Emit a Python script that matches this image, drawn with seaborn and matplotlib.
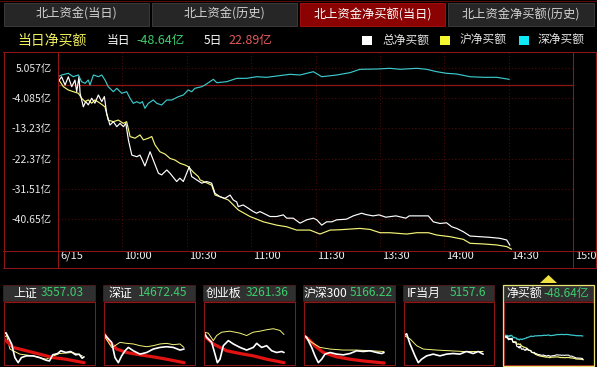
import matplotlib
matplotlib.use('Agg')
import matplotlib.pyplot as plt
from matplotlib.patches import Rectangle, Polygon
from matplotlib.lines import Line2D
import matplotlib.transforms as mtrans
import seaborn as sns

sns.set_style('dark')
plt.rcParams['font.family'] = ['Noto Sans CJK SC', 'DejaVu Sans']
plt.rcParams['axes.unicode_minus'] = False

# ---------------- data (minutes since 9:30, trading time; values in 亿) ----------------
tabs = ['北上资金(当日)', '北上资金(历史)', '北上资金净买额(当日)', '北上资金净买额(历史)']
legend_names = ['总净买额', '沪净买额', '深净买额']

x_ticks = [0, 30, 60, 90, 120, 150, 180, 210, 240]
x_labels = ['6/15', '10:00', '10:30', '11:00', '11:30', '13:30', '14:00', '14:30', '15:00']
y_ticks = [5.057, -4.085, -13.23, -22.37, -31.51, -40.65]
y_labels = ['5.057亿', '-4.085亿', '-13.23亿', '-22.37亿', '-31.51亿', '-40.65亿']

sz_t = [0, 1.7, 4.8, 7.1, 9.5, 11, 12.6, 14.1, 14.9, 16.5, 18.8, 20.4, 21.9, 23.4, 25.8, 27.4,
        29.7, 32, 33.6, 35.1, 36.7, 38.2, 39.3, 40.5, 42.1, 44.4, 46, 48.3, 50.7, 53, 56.1, 58.4,
        60.7, 62.3, 63.8, 67, 68.5, 72.4, 74, 78.6, 83.3, 87.9, 92.6, 97.3, 101.9, 108.1, 112.8,
        119, 122.9, 129.9, 136.1, 140.7, 148.5, 154.7, 159.4, 167.2, 171.8, 176.5, 181.1, 185.8,
        192, 198.2, 204.4, 210.3]
sz_v = [2.42, 2.94, 3.45, 2.42, 2.94, 0.91, 0.42, 1.42, -0.09, 2.94, 2.42, 2.94, 1.42, -0.6,
        -2.12, -1.09, -2.6, -2.12, -4.12, -5.63, -5.13, -5.63, -5.13, -7.14, -5.63, -4.63, -5.63,
        -6.14, -4.63, -4.63, -3.63, -3.12, -1.6, -2.12, -1.09, -0.6, -0.09, 1.63, 0.61, 0.91, 1.93,
        1.93, 2.42, 2.24, 2.63, 3.15, 2.94, 3.94, 2.42, 2.94, 3.65, 4.66, 4.75, 4.96, 4.66, 4.96,
        4.66, 3.94, 3.45, 3.24, 2.42, 2.24, 2.24, 1.63]

total_t = [0, 1.7, 3.3, 4.8, 6.4, 7.9, 8.7, 9.8, 10.3, 11.8, 12.9, 14.1, 15.7, 17.2, 18.8, 20.4,
           21.6, 22.7, 24.2, 25.8, 27.4, 28.9, 30.5, 31.6, 32.8, 34.4, 36.7, 38.2, 39.3, 40.5, 42.9,
           44.4, 46.8, 48.3, 50.7, 52.2, 55.3, 56.8, 58.4, 61.2, 62.3, 64.6, 67, 69.3, 71.6, 73.2,
           75.5, 77.8, 80.2, 81.7, 83.3, 84, 86.3, 88.7, 91, 92.6, 94.1, 95.7, 98.8, 101.9, 105,
           106.6, 109.6, 112.8, 115.9, 119, 120.6, 122.9, 125.2, 127.6, 129.9, 134.4, 137.6, 141.5,
           143.5, 146.8, 149.6, 152.8, 157.5, 162.1, 163.7, 168.4, 172.6, 174.9, 178, 181.1, 183.5,
           185.8, 188.9, 192, 196.7, 201.3, 206, 209.1, 210.6]
total_v = [0.9, 2.4, -0.1, 2.4, -0.6, 1.4, -2.1, 2.4, -2.6, -6.7, -5.1, -6.1, -4.1, -5.6, -3.1,
           -5.1, -3.6, -8.7, -12.2, -11.2, -12.7, -11.7, -12.7, -11.7, -16.7, -21.3, -21.8, -21.3,
           -22.8, -24.6, -20.3, -22.8, -26.8, -27.3, -25.8, -26.8, -29.3, -28.3, -29.3, -24.8,
           -27.8, -28.8, -29.8, -29.3, -29.8, -32.9, -33.9, -34.4, -33.4, -34.9, -35.5, -36.9,
           -36.4, -37.4, -38.4, -38.9, -38.4, -38.9, -39.9, -39.9, -39.4, -40.4, -40.4, -41.9,
           -40.9, -40.4, -40.9, -42.5, -41.5, -41.5, -40.9, -40.7, -39.7, -38.9, -39.3, -39.7,
           -39.4, -40.1, -39.7, -40.4, -39.7, -39.7, -39.7, -41.5, -42.0, -41.8, -43.0, -43.5,
           -44.5, -45.8, -46.0, -46.2, -46.5, -47.0, -48.6]

sh_t = [0, 2.5, 4.8, 7.1, 9.5, 11, 12.6, 14.1, 15.7, 17.2, 19.6, 21.9, 23.4, 25.8, 28.1, 30.4, 32,
        33.6, 35.9, 38.2, 39.8, 42.1, 43.7, 45.2, 47.5, 49.9, 52.2, 54.5, 56.9, 59.2, 60.7, 63.1,
        65.4, 66.2, 71.6, 73.2, 75.5, 79.4, 84, 89.5, 95.7, 101.9, 106.6, 111.2, 117.4, 122.1,
        126.8, 131.4, 140.7, 145.4, 150.1, 154.7, 162.5, 167.2, 172.6, 176.5, 182.7, 188.9, 192,
        198.2, 204.4, 209.1, 211.4]
sh_v = [1.9, -0.6, -1.6, -2.1, -2.6, -4.1, -5.1, -4.6, -5.6, -4.6, -5.6, -6.7, -10.7, -11.2,
        -10.7, -11.7, -11.2, -15.7, -16.2, -15.2, -16.7, -16.2, -15.7, -18.2, -20.3, -21.0, -22.3,
        -22.8, -23.8, -24.3, -24.8, -26.5, -27.8, -28.8, -30.4, -33.4, -33.9, -34.9, -37.9, -39.9,
        -41.5, -42.5, -43.0, -44.0, -44.0, -45.2, -44.0, -43.9, -43.5, -43.8, -44.8, -44.8, -45.2,
        -44.8, -44.8, -45.5, -46.0, -46.8, -48.0, -48.2, -48.5, -49.0, -49.8]

# ---------------- mini panels (relative level within each thumbnail) ----------------
mini_names = ['上证', '深证', '创业板', '沪深300', 'IF当月', '净买额']
mini_nums = ['3557.03', '14672.45', '3261.36', '5166.22', '5157.6', '-48.64亿']

p1_wt = [0, 5.2, 11.3, 20, 28.7, 37.3, 46, 59, 76.4, 93.8, 111, 120, 128.5, 141.5, 150, 163, 176, 189, 198, 206, 211]
p1_w = [30.7, 31.7, 27.3, 20.7, 7.3, 2.3, 7.3, 9, 9, 7.3, 4.7, 4, 10, 11.3, 14, 12.3, 13.3, 10, 10.7, 6.7, 8]
p1_yt = [0, 6.9, 15.6, 24.3, 41.7, 76.4, 111, 146, 180.6, 206.7]
p1_y = [27.3, 29, 15.7, 14, 10.7, 9, 5.7, 11.3, 12.3, 9]
p1_rt = [0, 24.3, 59, 93.8, 128.5, 163.2, 211]
p1_r = [25.7, 17.3, 14, 10.7, 7.3, 5.7, 2.3]

p2_wt = [0, 11.4, 20.2, 29, 37.8, 46.6, 55.4, 64.2, 77.4, 95, 112.5, 130, 147.7, 165.3, 182.8, 200.4, 211]
p2_w = [30.7, 25.7, 22.3, 7.3, 2.3, 9, 14, 17.3, 14, 10.7, 12.3, 15.7, 17.3, 18, 17.3, 14.7, 15.7]
p2_yt = [0, 20.2, 29, 42.2, 59.8, 77.4, 95, 112.5, 130, 147.7, 165.3, 182.8, 200.4, 211]
p2_y = [29, 17.3, 19, 22.3, 21.3, 20.7, 19, 18, 19, 20.7, 21.3, 20, 20.7, 17.3]
p2_rt = [0, 15.8, 33.4, 59.8, 95, 130, 165.3, 211]
p2_r = [30.7, 22.3, 15.7, 12.3, 10, 8, 5.7, 2.3]

p3_wt = [0, 7, 20.2, 29, 35.2, 42.2, 51, 64.2, 77.4, 95, 112.5, 130, 138.9, 152, 165.3, 178.5, 191.6, 204.8, 211]
p3_w = [32.3, 27.3, 22.3, 10.7, 2.3, 5.7, 19, 24, 20.7, 17.3, 14.7, 17.3, 21.3, 17.3, 19, 14, 12.3, 13.3, 12.3]
p3_yt = [0, 11.4, 24.6, 33.4, 46.6, 68.6, 95, 112.5, 130, 147.7, 165.3, 182.8, 200.4, 211]
p3_y = [32.3, 31.3, 24, 29, 32.3, 33.3, 31.3, 29, 32.3, 33.3, 34.7, 35.7, 34, 30]
p3_rt = [0, 24.6, 59.8, 95, 130, 165.3, 211]
p3_r = [29, 20.7, 14, 11.3, 9, 5.7, 2.3]

p4_wt = [0, 7, 20.2, 29, 37.8, 46.6, 55.4, 68.6, 86.1, 103.7, 121.3, 138.9, 156.4, 174, 191.6, 204.8, 211]
p4_w = [29, 27.3, 17.3, 9, 2.3, 5.7, 10.7, 12.3, 10.7, 10, 11.3, 14, 13.3, 14, 12.3, 11.3, 12.3]
p4_yt = [0, 20.2, 42.2, 68.6, 103.7, 138.9, 174, 211]
p4_y = [29, 22.3, 17.3, 15.7, 14.7, 14.7, 14, 13.3]
p4_rt = [0, 15.8, 33.4, 51, 86.1, 121.3, 156.4, 211]
p4_r = [29, 24, 17.3, 12.3, 8, 5.7, 4, 2]

p5_wt = [0, 7.1, 16, 29.3, 38.1, 47, 60.3, 78, 95.8, 113.5, 131.3, 149, 166.8, 184.5, 197.8, 211]
p5_w = [29, 30.7, 20.7, 9, 2.3, 5.7, 9, 10.7, 9, 10.7, 11.3, 10.7, 13.3, 11.3, 13.3, 10.7]
p5_yt = [0, 16, 33.7, 51.5, 86.9, 122.4, 157.9, 211]
p5_y = [29, 25.7, 19, 15.7, 14.7, 14, 13.3, 13.3]

# ---------------- styling ----------------
W, H = 597, 367
RED = '#8e1616'
GRID = '#4a0a0a'
C_WHITE = '#ffffff'
C_YEL = '#f4f47a'
C_CYAN = '#3cc8cc'
C_GREEN = '#3ccc6c'

fig = plt.figure(figsize=(W / 100, H / 100), dpi=100, facecolor='black')


def px_axes(x0, y0, x1, y1, z=1):
    return fig.add_axes([x0 / W, 1 - y1 / H, (x1 - x0) / W, (y1 - y0) / H], zorder=z)


def line(ax, t, v, color, lw):
    sns.lineplot(x=t, y=v, ax=ax, color=color, linewidth=lw, estimator=None,
                 sort=False, legend=False)


# main chart
ax = px_axes(58, 52, 573, 250, 2)
ax.set_facecolor('black')
for s in ax.spines.values():
    s.set_visible(False)
ax.set_xlim(0, 240)
ax.set_ylim(-50.03, 9.9)
ax.set_xticks(x_ticks)
ax.set_xticklabels(x_labels)
ax.set_yticks(y_ticks)
ax.set_yticklabels(y_labels)
ax.tick_params(axis='x', direction='out', length=12.3, width=0.75, color=RED,
               pad=-11.6, labelsize=8, labelcolor='#f0f0f0')
ax.tick_params(axis='y', length=0, pad=4.5, labelsize=7.5, labelcolor='#e8e8e8')
for lab in ax.get_xticklabels():
    lab.set_horizontalalignment('left')
ax.grid(True, color=GRID, linestyle=(0, (1, 2)), linewidth=0.8)
ax.axhline(0, color=RED, linewidth=0.9)
line(ax, sh_t, sh_v, C_YEL, 0.85)
line(ax, total_t, total_v, C_WHITE, 0.85)
line(ax, sz_t, sz_v, C_CYAN, 0.85)
ax.set_xlabel('')
ax.set_ylabel('')

off = mtrans.ScaledTranslation(2 / 100, 0, fig.dpi_scale_trans)
for lab in ax.get_xticklabels():
    lab.set_transform(lab.get_transform() + off)

# mini panels
boxes = [(3, 95), (103, 195), (203, 295), (303, 395), (403, 494), (503, 594)]
name_x = [13, 109, 206, 304, 407, 506]
num_x = [41, 138, 246, 350, 450, 543]
mini_series = [
    [(p1_yt, p1_y, C_YEL, 0.7), (p1_rt, p1_r, '#e01212', 2.3), (p1_wt, p1_w, C_WHITE, 1.2)],
    [(p2_rt, p2_r, '#e01212', 2.3), (p2_yt, p2_y, C_YEL, 0.7), (p2_wt, p2_w, C_WHITE, 1.2)],
    [(p3_rt, p3_r, '#e01212', 2.3), (p3_yt, p3_y, C_YEL, 0.7), (p3_wt, p3_w, C_WHITE, 1.2)],
    [(p4_rt, p4_r, '#e01212', 2.3), (p4_yt, p4_y, C_YEL, 0.7), (p4_wt, p4_w, C_WHITE, 1.2)],
    [(p5_yt, p5_y, C_YEL, 0.7), (p5_wt, p5_w, C_WHITE, 1.2)],
    [(sh_t, sh_v, C_YEL, 0.9), (total_t, total_v, C_WHITE, 0.8), (sz_t, sz_v, C_CYAN, 0.9)],
]
for i, (x0, x1) in enumerate(boxes):
    m = px_axes(x0 + 1, 302, x1, 365, 2)
    m.set_facecolor('black')
    for s in m.spines.values():
        s.set_visible(False)
    m.set_xticks([])
    m.set_yticks([])
    m.set_xlim(0, 240)
    if i == 5:
        m.set_ylim(-61, 75)
    else:
        m.set_ylim(0, 62)
    for t, v, c, lw in mini_series[i]:
        line(m, t, v, c, lw)
    m.set_xlabel('')
    m.set_ylabel('')

# overlay for frames, tabs, header, legend
ov = fig.add_axes([0, 0, 1, 1], zorder=5)
ov.set_xlim(0, W)
ov.set_ylim(H, 0)
ov.axis('off')
ov.patch.set_alpha(0)


def hl(y, xa, xb, c=RED, lw=0.75):
    ov.add_line(Line2D([xa, xb], [y, y], color=c, linewidth=lw))


def vl(x, ya, yb, c=RED, lw=0.75):
    ov.add_line(Line2D([x, x], [ya, yb], color=c, linewidth=lw))


hl(0.5, 0, W, '#5a0c0c')
# tabs
tab_x = [(4, 149), (152, 297), (300, 445), (448, 594)]
for i, (a, b) in enumerate(tab_x):
    active = (i == 2)
    ov.add_patch(Rectangle((a, 3), b - a, 23, facecolor='#8a0202' if active else '#262626',
                           edgecolor='#a01010' if active else '#3a3a3a', linewidth=0.7))
    ov.text((a + b) / 2, 14.5, tabs[i], color='#ffffff' if active else '#d4d4d4',
            fontsize=8.8, ha='center', va='center')

# header row
ov.text(17, 40.5, '当日净买额', color='#f0f05a', fontsize=10, va='center')
ov.text(107, 40.5, '当日', color='#ffffff', fontsize=8.5, va='center')
ov.text(136, 40.5, '-48.64亿', color=C_GREEN, fontsize=9, va='center')
ov.text(204, 40.5, '5日', color='#ffffff', fontsize=8.5, va='center')
ov.text(228, 40.5, '22.89亿', color='#e05a5a', fontsize=9, va='center')
leg_sq = [362, 440, 519]
leg_tx = [382, 460, 538]
leg_col = ['#ffffff', '#f6f630', '#10e8f8']
for sx, tx, c, nm in zip(leg_sq, leg_tx, leg_col, legend_names):
    ov.add_patch(Rectangle((sx, 36), 10, 9, facecolor=c, edgecolor='none'))
    ov.text(tx, 40.5, nm, color='#e4e4e4', fontsize=8.5, va='center')

# main frame lines
for y in (51.5, 250.5, 267.5):
    hl(y, 3, 596)
for x in (3.5, 57.5, 572.5, 595.5):
    vl(x, 51.5, 267.5)

# mini panel decorations
for i, (x0, x1) in enumerate(boxes):
    ov.add_patch(Rectangle((x0, 285), x1 - x0, 16, facecolor='#303030',
                           edgecolor='#4a1a1a', linewidth=0.7))
    ov.add_patch(Rectangle((x0 + 0.5, 302), x1 - x0 - 0.5, 63, facecolor='none',
                           edgecolor=RED, linewidth=0.75))
    ov.text(name_x[i], 293, mini_names[i], color='#ffffff', fontsize=8.6, va='center')
    ov.text(num_x[i], 293, mini_nums[i], color=C_GREEN, fontsize=8.6, va='center')

ov.add_patch(Rectangle((503, 285), 91, 81, facecolor='none', edgecolor='#e8e070', linewidth=0.9))
ov.add_patch(Polygon([(540, 283), (557, 283), (548.5, 275)], closed=True,
                     facecolor='#f0e040', edgecolor='none'))

fig.savefig('out.png', dpi=100, facecolor='black')
